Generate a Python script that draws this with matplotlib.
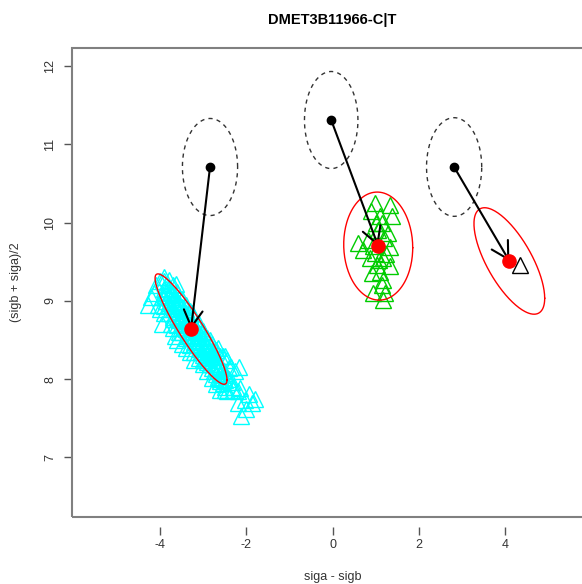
import numpy as np
import matplotlib.pyplot as plt
from matplotlib.patches import Rectangle, FancyArrowPatch, ArrowStyle

plt.rcParams['font.family'] = ['Liberation Sans', 'DejaVu Sans']
plt.rcParams['axes.unicode_minus'] = False

# cyan cluster (siga - sigb, (sigb + siga)/2), outer points
cyan_x = [-4.28, -4.2, -4.1, -4.05, -4.0, -3.95, -3.9, -3.85, -3.8, -3.75, -3.7, -3.63, -3.6, -3.55,
          -4.15, -3.95, -3.75, -4.0, -3.85, -3.68,
          -3.5, -3.45, -3.4, -3.35, -3.3, -3.25, -3.2, -3.15, -3.1, -3.05, -3.0, -2.95, -2.9, -2.85,
          -2.8, -3.55, -3.4, -3.3, -3.2, -3.6, -3.5, -3.45, -3.35, -3.15, -3.05, -2.9, -3.7, -3.65,
          -3.25, -3.0, -2.95, -3.1, -2.85,
          -2.75, -2.7, -2.65, -2.6, -2.55, -2.5, -2.45, -2.4, -2.35, -2.3, -2.25, -2.2, -2.16, -2.4,
          -2.15, -1.94, -2.03, -2.11, -1.87, -2.31, -2.49, -2.33, -2.6, -2.5, -2.45, -2.0, -2.2, -1.8]
cyan_y = [8.95, 9.05, 9.2, 8.95, 9.25, 9.05, 8.85, 9.15, 8.95, 9.1, 8.8, 9.22, 8.95, 8.75,
          9.1, 8.7, 8.7, 8.9, 9.0, 9.0,
          8.8, 8.65, 8.9, 8.55, 8.75, 8.6, 8.45, 8.7, 8.5, 8.35, 8.6, 8.4, 8.25, 8.5,
          8.3, 8.6, 8.4, 8.35, 8.25, 8.5, 8.45, 8.75, 8.8, 8.55, 8.45, 8.4, 8.65, 8.55,
          8.85, 8.25, 8.55, 8.65, 8.2,
          8.35, 8.2, 8.4, 8.15, 8.3, 8.05, 8.25, 8.0, 8.15, 7.9, 8.1, 7.85, 8.16, 8.14,
          7.89, 7.81, 7.73, 7.53, 7.70, 7.86, 7.86, 7.96, 8.0, 8.3, 7.85, 7.62, 7.7, 7.75]

# cyan cluster, dense core
core_x = [-3.9, -3.9, -3.9, -3.85, -3.85, -3.85, -3.8, -3.8, -3.8, -3.75, -3.75, -3.75,
          -3.7, -3.7, -3.7, -3.65, -3.65, -3.65, -3.6, -3.6, -3.6, -3.55, -3.55, -3.55,
          -3.5, -3.5, -3.5, -3.45, -3.45, -3.45, -3.4, -3.4, -3.4, -3.35, -3.35, -3.35,
          -3.3, -3.3, -3.3, -3.25, -3.25, -3.25, -3.2, -3.2, -3.2, -3.15, -3.15, -3.15,
          -3.1, -3.1, -3.1, -3.05, -3.05, -3.05, -3.0, -3.0, -3.0, -2.95, -2.95, -2.95,
          -2.9, -2.9, -2.9, -2.85, -2.85, -2.85, -2.8, -2.8, -2.8, -2.75, -2.75, -2.75,
          -2.7, -2.7, -2.7, -2.65, -2.65, -2.65, -2.6, -2.6, -2.6, -2.55, -2.55, -2.55,
          -2.5, -2.5, -2.5]
core_y = [9.05, 9.15, 9.25, 9.0, 9.12, 9.2, 8.97, 9.07, 9.17, 8.93, 9.03, 9.12,
          8.9, 8.99, 9.09, 8.85, 8.95, 9.05, 8.81, 8.91, 9.0, 8.78, 8.87, 8.97,
          8.72, 8.82, 8.92, 8.69, 8.78, 8.88, 8.64, 8.74, 8.84, 8.6, 8.7, 8.8,
          8.56, 8.66, 8.76, 8.52, 8.62, 8.71, 8.47, 8.57, 8.67, 8.44, 8.53, 8.63,
          8.39, 8.49, 8.59, 8.35, 8.45, 8.55, 8.31, 8.41, 8.5, 8.27, 8.36, 8.46,
          8.22, 8.32, 8.42, 8.19, 8.28, 8.37, 8.14, 8.24, 8.33, 8.1, 8.2, 8.29,
          8.06, 8.16, 8.25, 8.03, 8.12, 8.2, 7.98, 8.08, 8.17, 7.95, 8.03, 8.12,
          7.9, 7.99, 8.08]

# cyan cluster, edges of the core
edge_x = [-3.9, -3.8, -3.7, -3.6, -3.5, -3.4, -3.3, -3.2, -3.1, -3.0, -2.9, -2.8, -2.7, -2.6,
          -3.9, -3.8, -3.7, -3.6, -3.5, -3.4, -3.3, -3.2, -3.1, -3.0, -2.9, -2.8, -2.7, -2.6]
edge_y = [8.93, 8.85, 8.77, 8.69, 8.60, 8.52, 8.44, 8.35, 8.27, 8.19, 8.10, 8.02, 7.94, 7.86,
          9.3, 9.27, 9.2, 9.12, 9.03, 8.95, 8.87, 8.78, 8.7, 8.62, 8.53, 8.45, 8.37, 8.29]

# green cluster
green_x = [0.99, 1.33, 0.89, 1.10, 1.37, 1.14, 1.00, 0.82, 1.29, 1.33, 0.59, 0.99, 0.87, 1.17,
           1.03, 1.33, 1.10, 0.91, 1.17, 0.94, 1.22, 1.18, 1.05, 0.95, 1.2, 1.25, 1.08, 1.15, 0.7]
green_y = [10.25, 10.22, 10.15, 10.08, 10.08, 10.0, 9.99, 9.78, 9.87, 9.69, 9.74, 9.61, 9.55, 9.55,
           9.46, 9.44, 9.37, 9.36, 9.27, 9.10, 9.10, 9.01, 9.9, 9.7, 9.8, 9.6, 9.52, 9.2, 9.65]

# single point, right cluster
other_x = [4.35]
other_y = [9.46]
marker_colors = ['#00ffff', '#00cc00', 'black']

# starting centres (black) and fitted centres (red)
start_x = [-2.84, -0.03, 2.82]
start_y = [10.71, 11.31, 10.71]
start_sx = [0.64, 0.62, 0.64]
start_sy = [0.62, 0.62, 0.63]

fit_x = [-3.28, 1.06, 4.10]
fit_y = [8.64, 9.70, 9.51]
fit_sx = [0.834, 0.80, 0.82]
fit_sy = [0.705, 0.69, 0.68]
fit_rho = [-0.92, -0.03, -0.70]


def ellipse(cx, cy, sx, sy, rho):
    t = np.linspace(0, 2 * np.pi, 200)
    cov = np.array([[sx * sx, rho * sx * sy], [rho * sx * sy, sy * sy]])
    L = np.linalg.cholesky(cov)
    pts = L @ np.vstack([np.cos(t), np.sin(t)])
    return cx + pts[0], cy + pts[1]


fig = plt.figure(figsize=(5.82, 5.84), dpi=100)
ax = fig.add_axes([72 / 582, 67 / 584, 521 / 582, 469 / 584])

groups = [(cyan_x + core_x + edge_x, cyan_y + core_y + edge_y),
          (green_x, green_y), (other_x, other_y)]
for (gx, gy), c in zip(groups, marker_colors):
    ax.plot(gx, gy, '^', ms=11.5, mfc='none', mec=c, mew=1.0, zorder=2)

for i in range(3):
    ex, ey = ellipse(fit_x[i], fit_y[i], fit_sx[i], fit_sy[i], fit_rho[i])
    ax.plot(ex, ey, color='red', lw=1.0, zorder=3)
    ex, ey = ellipse(start_x[i], start_y[i], start_sx[i], start_sy[i], 0.0)
    ax.plot(ex, ey, color='#333333', lw=1.0, dashes=(3, 3), zorder=3)
    arr = FancyArrowPatch((start_x[i], start_y[i]), (fit_x[i], fit_y[i]),
                          arrowstyle=ArrowStyle('->', head_length=0.8, head_width=0.45),
                          mutation_scale=15, lw=1.5, color='black',
                          shrinkA=0, shrinkB=0, zorder=4)
    ax.add_patch(arr)

ax.plot(start_x, start_y, 'o', color='black', ms=6, zorder=5)
ax.plot(fit_x, fit_y, 'o', color='red', ms=9.5, zorder=5)

ax.set_xlim(-6.04, 6.04)
ax.set_ylim(6.24, 12.23)
ax.set_xticks([-4, -2, 0, 2, 4])
ax.set_yticks([7, 8, 9, 10, 11, 12])

for s in ax.spines.values():
    s.set_visible(False)
ax.spines['bottom'].set_position(('outward', 7.2))
ax.add_patch(Rectangle((0, 0), 1, 1, transform=ax.transAxes, fill=False,
                       ec='#808080', lw=1.5, clip_on=False, zorder=10))

ax.tick_params(axis='x', length=5.8, width=1.0, color='#555555', pad=2.5,
               labelsize=9, labelcolor='#333333')
ax.tick_params(axis='y', length=5.8, width=1.0, color='#555555', pad=5.5,
               labelsize=9, labelcolor='#333333', labelrotation=90)
for lab in ax.get_yticklabels():
    lab.set_va('center')

ax.set_title('DMET3B11966-C|T', fontsize=10.5, fontweight='bold', pad=17)
fig.text(332.5 / 582, 1 - 577 / 584, 'siga - sigb', ha='center', va='center',
         fontsize=9, color='#333333')
fig.text(16 / 582, 1 - 282 / 584, '(sigb + siga)/2', ha='center', va='center',
         rotation=90, fontsize=9, color='#333333')

fig.savefig('out.png', dpi=100)
